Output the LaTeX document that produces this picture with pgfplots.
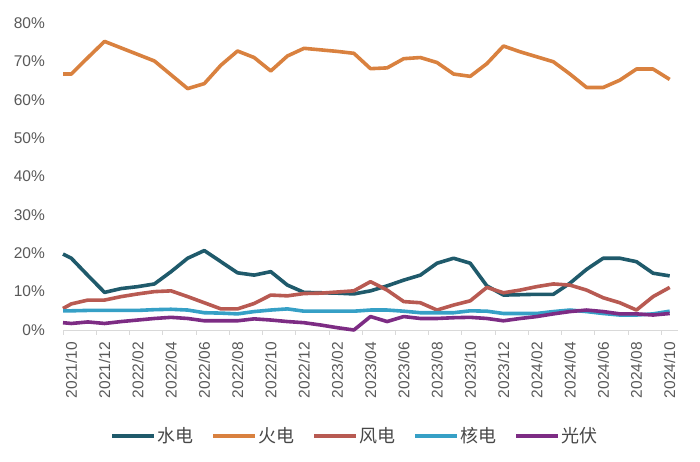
\documentclass[border=0pt]{standalone}
\usepackage{fontspec}
\setmainfont{Liberation Sans}
\newfontfamily\cjk{Noto Sans CJK SC}
\usepackage{pgfplots}
\usepackage{pgfplotstable}
\pgfplotsset{compat=1.18}
\definecolor{cHydro}{HTML}{1F5A6B}
\definecolor{cFire}{HTML}{D9813F}
\definecolor{cWind}{HTML}{B85A52}
\definecolor{cNuke}{HTML}{36A0C6}
\definecolor{cSolar}{HTML}{7D2C84}
\definecolor{txtGray}{HTML}{595959}
\definecolor{axGray}{HTML}{D9D9D9}

% month index 0 = 2021/10 ... 36 = 2024/10
\pgfplotstableread{
i     fire  hydro wind  nuke  solar
-0.5  66.7  19.8  5.6   5.0   1.9
0     66.7  18.7  6.8   5.0   1.7
1     71.0  14.2  7.8   5.1   2.1
2     75.2  9.8   7.8   5.1   1.7
3     73.5  10.8  8.7   5.1   2.2
4     71.8  11.3  9.4   5.1   2.6
5     70.1  12.0  10.0  5.3   3.0
6     66.5  15.2  10.2  5.4   3.3
7     62.9  18.7  8.7   5.2   3.0
8     64.2  20.7  7.1   4.5   2.4
9     69.0  17.8  5.5   4.4   2.4
10    72.7  14.9  5.5   4.2   2.4
11    71.0  14.3  6.9   4.8   2.9
12    67.5  15.2  9.1   5.2   2.6
13    71.4  11.7  8.9   5.5   2.2
14    73.4  9.8   9.5   4.9   1.9
15    73.0  9.7   9.6   4.9   1.3
16    72.6  9.6   9.9   4.9   0.6
17    72.1  9.4   10.2  4.9   0.0
18    68.1  10.2  12.6  5.2   3.5
19    68.3  11.5  10.4  5.2   2.2
20    70.7  13.0  7.4   4.9   3.5
21    71.0  14.3  7.1   4.5   3.0
22    69.7  17.4  5.2   4.5   3.0
23    66.7  18.7  6.5   4.5   3.2
24    66.1  17.4  7.6   5.0   3.3
25    69.4  11.5  11.1  4.9   3.0
26    74.0  9.1   9.7   4.3   2.4
27    72.5  9.2   10.4  4.3   3.0
28    71.2  9.3   11.3  4.3   3.5
29    69.9  9.3   12.0  4.8   4.2
30    66.7  12.2  11.7  5.2   4.8
31    63.2  15.8  10.4  4.8   5.2
32    63.2  18.7  8.4   4.3   4.8
33    65.1  18.7  7.1   3.9   4.2
34    68.0  17.8  5.2   3.9   4.2
35    68.0  14.8  8.7   4.2   3.9
36    65.3  14.1  11.1  4.9   4.3
}\gen

\begin{document}
\begin{tikzpicture}
\path[use as bounding box] (0,0) rectangle (700pt,462pt);
\begin{axis}[
  at={(63pt,132pt)}, anchor=south west,
  scale only axis, width=615pt, height=307pt,
  xmin=-0.5, xmax=36.5, ymin=0, ymax=80,
  clip=false,
  axis x line*=bottom, axis y line*=left,
  x axis line style={draw=axGray, line width=0.9pt, -},
  y axis line style={draw=none},
  xtick={0,2,...,36},
  xticklabels={2021/10,2021/12,2022/02,2022/04,2022/06,2022/08,2022/10,2022/12,2023/02,2023/04,2023/06,2023/08,2023/10,2023/12,2024/02,2024/04,2024/06,2024/08,2024/10},
  minor xtick={-0.5,1.5,...,35.5},
  major tick length=0pt, minor tick length=5pt,
  tick align=outside,
  minor tick style={draw=axGray, line width=0.9pt},
  ytick={0,10,...,80},
  yticklabel={\pgfmathprintnumber{\tick}\%},
  /pgf/number format/assume math mode=true,
  tick label style={font=\fontsize{15.5}{18}\selectfont, text=txtGray},
  xticklabel style={rotate=90, anchor=east, inner sep=0pt},
  xticklabel shift=12pt,
  yticklabel style={anchor=east, inner sep=0pt},
  yticklabel shift=18pt,
  every axis plot/.append style={line width=3.6pt, line join=round, mark=none},
  legend columns=5,
  legend style={at={(0.474,-0.345)}, anchor=center, draw=none, fill=none,
    font=\fontsize{18}{21}\selectfont\cjk, text=txtGray!80!black,
    nodes={inner sep=1.5pt},
    /tikz/every even column/.append style={column sep=16pt}},
  legend image code/.code={\draw[#1, line width=4pt] (0pt,0pt) -- (42pt,0pt);},
]
\addplot[cHydro] table[x=i, y=hydro] {\gen};
\addplot[cFire]  table[x=i, y=fire]  {\gen};
\addplot[cWind]  table[x=i, y=wind]  {\gen};
\addplot[cNuke]  table[x=i, y=nuke]  {\gen};
\addplot[cSolar] table[x=i, y=solar] {\gen};
\legend{水电,火电,风电,核电,光伏}
\end{axis}
\end{tikzpicture}
\end{document}
